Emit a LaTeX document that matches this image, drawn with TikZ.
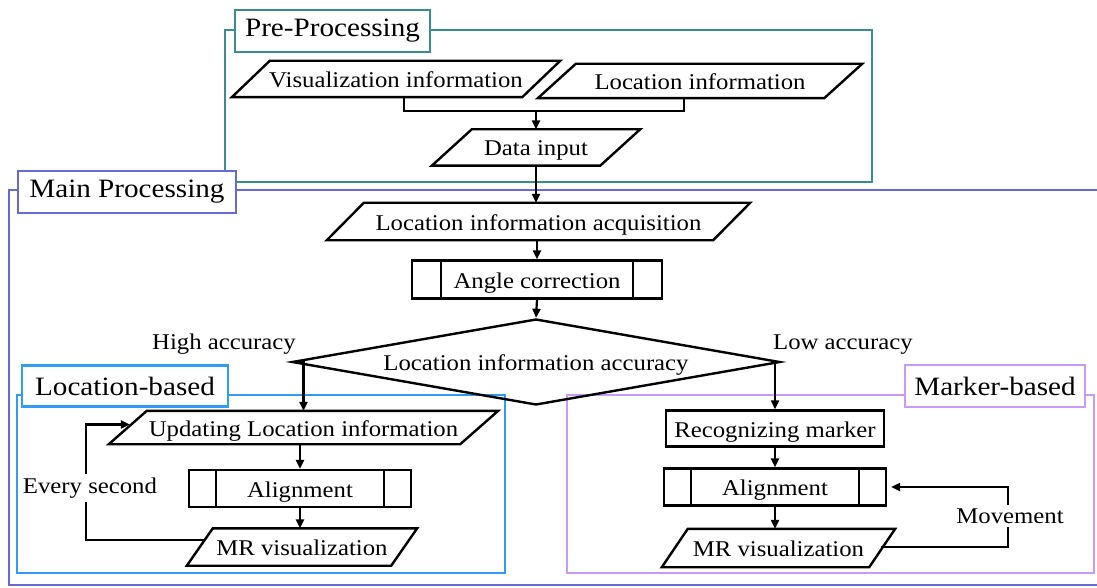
\documentclass[tikz,border=0pt]{standalone}
\usepackage{fontspec}
\setmainfont[FakeStretch=1.1]{Liberation Serif}
\usetikzlibrary{shapes.geometric,arrows.meta,calc}
\definecolor{preC}{RGB}{60,140,140}
\definecolor{mainC}{RGB}{105,105,210}
\definecolor{locC}{RGB}{50,155,245}
\definecolor{markC}{RGB}{200,155,245}
\tikzset{
  body/.style={font=\fontsize{22.5}{26}\selectfont, text height=18pt, text depth=1pt},
  blk/.style={body, draw=black, line width=2.4pt, fill=white, inner sep=0pt},
  ptxt/.style={body, inner sep=0pt},
  pline/.style={draw=black, line width=2.4pt, line join=miter},
  proc/.style={blk, rectangle},
  grp/.style={line width=2.6pt},
  lbl/.style={draw, line width=2.6pt, fill=white, inner sep=0pt, font=\fontsize{26.5}{30}\selectfont},
  arr/.style={line width=2.2pt, -{Triangle[length=9pt,width=8pt]}},
  conn/.style={line width=2.2pt},
  txt/.style={font=\fontsize{22.5}{26}\selectfont, inner sep=1pt}
}
% parallelogram: name, position, width, height, slant, text
\newcommand{\paranode}[6]{%
  \node[ptxt, minimum width=#3pt, minimum height=#4pt] (#1) at (#2) {#6};
  \draw[pline] ([xshift=#5pt]#1.north west) -- (#1.north east) -- ([xshift=-#5pt]#1.south east) -- (#1.south west) -- cycle;
}
\begin{document}
\begin{tikzpicture}[x=1pt,y=-1pt]
\useasboundingbox (0,0) rectangle (1097,588);
% containers
\draw[grp, preC] (225,30) rectangle (872,182);
\draw[grp, mainC] (9,190) rectangle (1115,585);
\draw[grp, locC] (17,395) rectangle (505,573);
\draw[grp, markC] (567,395) rectangle (1094,573);
% group labels
\node[lbl, draw=preC, minimum width=195pt, minimum height=42pt] (lpre) at (332.5,31) {Pre-Processing};
\node[lbl, draw=mainC, minimum width=218pt, minimum height=42pt] (lmain) at (127,192) {Main Processing};
\node[lbl, draw=locC, minimum width=206pt, minimum height=41pt] (lloc) at (125,386) {Location-based};
\node[lbl, draw=markC, minimum width=180pt, minimum height=42pt] (lmark) at (995,386) {Marker-based};
% pre-processing nodes
\paranode{vis}{396,79}{328}{36}{38}{Visualization information}
\paranode{loc}{700,81}{324}{34}{38}{Location information}
\paranode{din}{536,147.5}{208}{36}{40}{Data input}
\coordinate (j) at (536,111);
\draw[conn] ([xshift=8pt]vis.south) |- (j) -| ([xshift=-16pt]loc.south);
\draw[arr] (j) -- (din.north);
% main nodes
\paranode{acq}{538.5,221.5}{423}{37}{37}{Location information acquisition}
\draw[arr] (din.south) -- (din.south |- acq.north);
\node[proc, minimum width=250pt, minimum height=38pt] (ang) at (537,279.5) {Angle correction};
\draw[conn] ([xshift=30pt]ang.north west) -- ([xshift=30pt]ang.south west);
\draw[conn] ([xshift=-30pt]ang.north east) -- ([xshift=-30pt]ang.south east);
\draw[arr] (acq.south -| ang.north) -- (ang.north);
\node[draw, diamond, body, line width=2.4pt, aspect=5.7, inner sep=0pt, minimum width=488pt, minimum height=86pt] (dia) at (536,362) {Location information accuracy};
\draw[arr] (ang.south) -- (dia.north);
\node[txt, anchor=south east] (hi) at (297,356) {High accuracy};
\node[txt, anchor=south west] (lo) at (772,356) {Low accuracy};
% location-based
\paranode{upd}{303.5,427.5}{389}{33}{38}{Updating Location information}
\node[proc, minimum width=222pt, minimum height=37pt] (ali1) at (300,488.5) {Alignment};
\draw[conn] ([xshift=28pt]ali1.north west) -- ([xshift=28pt]ali1.south west);
\draw[conn] ([xshift=-28pt]ali1.north east) -- ([xshift=-28pt]ali1.south east);
\paranode{mr1}{302,547}{230}{37}{26}{MR visualization}
\draw[arr] (dia.west) -| (upd.north);
\draw[arr] (upd.south -| ali1.north) -- (ali1.north);
\draw[arr] (ali1.south) -- (ali1.south |- mr1.north);
\coordinate (c1) at (86,540);
\coordinate (m1) at ([xshift=18pt,yshift=7pt]mr1.west);
\coordinate (u1) at ([xshift=21pt,yshift=3pt]upd.west);
\draw[arr] (m1) -- (m1 -| c1) -- (c1 |- u1) -- (u1);
\node[txt, fill=white, inner sep=4pt] (every) at (90,488) {Every second};
% marker-based
\node[proc, minimum width=218pt, minimum height=36pt] (rec) at (775,428.5) {Recognizing marker};
\node[proc, minimum width=222pt, minimum height=37pt] (ali2) at (775,487) {Alignment};
\draw[conn] ([xshift=28pt]ali2.north west) -- ([xshift=28pt]ali2.south west);
\draw[conn] ([xshift=-28pt]ali2.north east) -- ([xshift=-28pt]ali2.south east);
\paranode{mr2}{778.5,548}{233}{38}{26}{MR visualization}
\draw[arr] (dia.east) -| (rec.north);
\draw[arr] (rec.south) -- (ali2.north);
\draw[arr] (ali2.south) -- (ali2.south |- mr2.north);
\coordinate (c2) at (1008,540);
\coordinate (m2) at ([xshift=-14pt,yshift=1pt]mr2.east);
\draw[arr] (m2) -- (m2 -| c2) -- (c2 |- ali2.east) -- ([xshift=4pt]ali2.east);
\node[txt, fill=white, inner sep=4pt] (move) at (1010,516) {Movement};
\end{tikzpicture}
\end{document}
